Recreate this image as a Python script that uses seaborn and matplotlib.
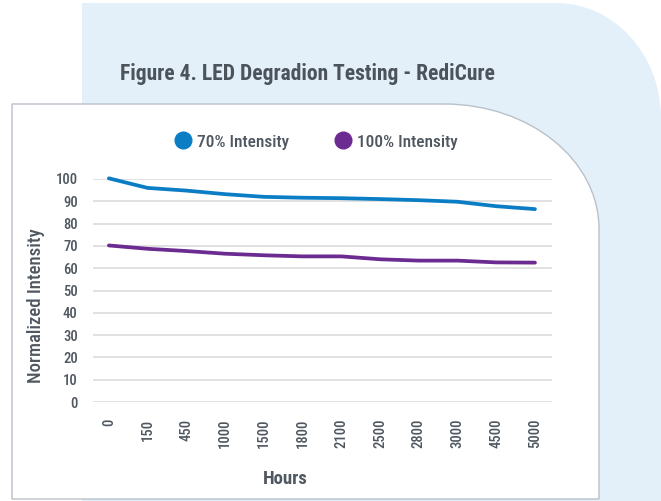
import matplotlib
matplotlib.use("Agg")
import matplotlib.pyplot as plt
from matplotlib import font_manager
from matplotlib.path import Path
from matplotlib.patches import PathPatch
from matplotlib.lines import Line2D
import pandas as pd
import seaborn as sns

# ---- data -------------------------------------------------------------
hours = ["0", "150", "450", "1000", "1500", "1800", "2100",
         "2500", "2800", "3000", "4500", "5000"]
intensity_70 = [100.3, 96.0, 94.8, 93.2, 92.0, 91.6, 91.4, 91.0, 90.5, 89.8, 87.8, 86.5]
intensity_100 = [70.2, 68.7, 67.7, 66.5, 65.8, 65.3, 65.3, 64.0, 63.4, 63.4, 62.6, 62.5]
series_names = ["70% Intensity", "100% Intensity"]
y_ticks = [0, 10, 20, 30, 40, 50, 60, 70, 80, 90, 100]

title = "Figure 4. LED Degradion Testing - RediCure"

# ---- style --------------------------------------------------------------
sns.set_theme(style="white")
available = {f.name for f in font_manager.fontManager.ttflist}
family = next(f for f in ["Roboto Condensed", "Liberation Sans Narrow", "Roboto", "DejaVu Sans"]
              if f in available)
plt.rcParams["font.family"] = [family, "DejaVu Sans"]

BLUE = "#0b7dc5"
PURPLE = "#6c2b90"
TEXT = "#4f5760"
GRID = "#dcdcdc"
BG = "#e3f0f9"

W, H = 661, 501
fig = plt.figure(figsize=(W / 100, H / 100), dpi=100, facecolor="white")


def fx(px):
    return px / W


def fy(py):
    return 1 - py / H


def corner_panel(x0, y0, x1, y1, rx, ry):
    """Rectangle (pixel coords, y down) with a rounded top-right corner."""
    k = 0.5523
    verts = [
        (x0, y1), (x0, y0), (x1 - rx, y0),
        (x1 - rx + k * rx, y0), (x1, y0 + ry - k * ry), (x1, y0 + ry),
        (x1, y1), (x0, y1),
    ]
    codes = [Path.MOVETO, Path.LINETO, Path.LINETO,
             Path.CURVE4, Path.CURVE4, Path.CURVE4,
             Path.LINETO, Path.CLOSEPOLY]
    return Path([(fx(x), fy(y)) for x, y in verts], codes)


# light blue backdrop and the white card holding the chart
fig.patches.append(PathPatch(corner_panel(82, 3, 661, 510, 105, 115),
                             transform=fig.transFigure, facecolor=BG,
                             edgecolor="none", zorder=0))
fig.patches.append(PathPatch(corner_panel(12, 104, 599, 499, 155, 125),
                             transform=fig.transFigure, facecolor="white",
                             edgecolor="#b9c1c9", linewidth=1.0, zorder=1))

fig.text(fx(120), fy(74), title, fontsize=15.5, color="#4b535b",
         fontweight="semibold", ha="left", va="center")

# ---- chart --------------------------------------------------------------
ax = fig.add_axes([fx(93), fy(402), fx(552) - fx(93), fy(179) - fy(402)])
ax.set_facecolor("none")
ax.set_zorder(2)

df = pd.DataFrame({
    "pos": list(range(len(hours))) * 2,
    "value": intensity_70 + intensity_100,
    "series": [series_names[0]] * len(hours) + [series_names[1]] * len(hours),
})
sns.lineplot(data=df, x="pos", y="value", hue="series",
             palette=[BLUE, PURPLE], linewidth=2.7, ax=ax, legend=False,
             solid_capstyle="round")
for ln in ax.lines:
    ln.set_clip_on(False)

ax.set_ylim(0, 100)
ax.set_xlim(-0.41, len(hours) - 1 + 0.44)
ax.set_yticks(y_ticks)
ax.set_xticks(range(len(hours)))
ax.set_xticklabels(hours, rotation=90)
ax.grid(axis="y", color=GRID, linewidth=1.2)
ax.grid(axis="x", visible=False)
for s in ax.spines.values():
    s.set_visible(False)
ax.tick_params(axis="y", length=0, pad=11, labelsize=10.5, labelcolor=TEXT)
ax.tick_params(axis="x", length=0, pad=12, labelsize=10.5, labelcolor=TEXT)
for lbl in ax.get_xticklabels() + ax.get_yticklabels():
    lbl.set_fontweight("medium")

ax.set_xlabel("Hours", fontsize=13.5, color=TEXT, fontweight="bold")
ax.xaxis.set_label_coords((285 - 93) / 459, (402 - 479) / 223)
ax.xaxis.label.set_verticalalignment("center")
ax.set_ylabel("Normalized Intensity", fontsize=13.5, color=TEXT, fontweight="medium")
ax.yaxis.set_label_coords((36 - 93) / 459, (402 - 306) / 223)
ax.yaxis.label.set_verticalalignment("center")

handles = [Line2D([], [], linestyle="none", marker="o", markersize=12,
                  markerfacecolor=c, markeredgecolor=c) for c in (BLUE, PURPLE)]
leg = fig.legend(handles, series_names, loc="center", ncol=2, frameon=False,
                 bbox_to_anchor=(fx(316), fy(142)),
                 prop={"size": 12.5, "weight": "medium"},
                 labelcolor=TEXT, handletextpad=0.3, columnspacing=2.6,
                 handlelength=1.0)

fig.savefig("out.png", dpi=100, facecolor="white")
